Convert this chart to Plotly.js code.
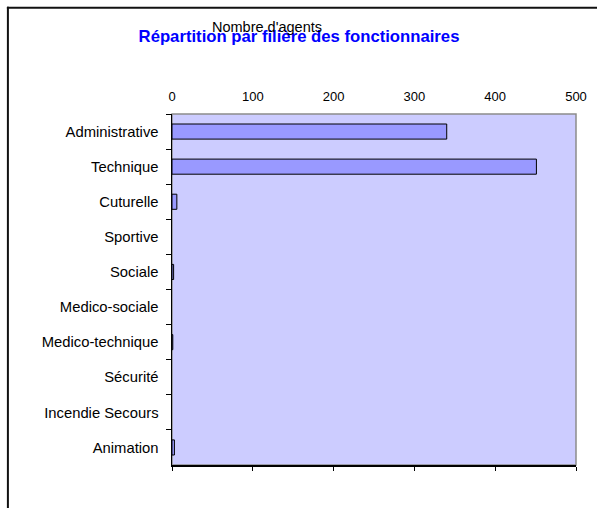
<!DOCTYPE html>
<html>
<head>
<meta charset="utf-8">
<script src="https://cdn.plot.ly/plotly-3.0.1.min.js"></script>
<style>html,body{margin:0;padding:0;background:#fff;}#chart{width:597px;height:508px;}</style>
</head>
<body>
<div id="chart"></div>
<script>
var categories = ["Administrative","Technique","Cuturelle","Sportive","Sociale","Medico-sociale","Medico-technique","Sécurité","Incendie Secours","Animation"];
var agents = [340, 451, 6, 0, 2, 0, 1, 0, 0, 3];
var xTickValues = [0, 100, 200, 300, 400, 500];

var W = 597, H = 508;
var L = 171.5, R = 576.5, T = 113.5, B = 465.5;
function px(x){ return (x - L) / (R - L); }
function py(y){ return (B - y) / (B - T); }

var trace = {
  type: 'bar',
  orientation: 'h',
  x: agents,
  y: categories,
  width: 0.43,
  marker: {color: '#9999FF', line: {color: '#000000', width: agents.map(function(v){ return v > 0 ? 1 : 0; })}},
  hoverinfo: 'x+y',
  showlegend: false
};
// empty trace so that the top (label) axis is drawn
var topAxisTrace = {type: 'scatter', mode: 'markers', x: [], y: [], xaxis: 'x2', yaxis: 'y', showlegend: false, hoverinfo: 'skip'};

var layout = {
  width: W, height: H,
  margin: {l: L, r: W - R, t: T, b: H - B, pad: 0},
  paper_bgcolor: '#FFFFFF',
  plot_bgcolor: '#CCCCFF',
  font: {family: 'Liberation Sans, Arial, sans-serif', color: '#000000', size: 13},
  showlegend: false,
  title: {
    text: '<b>Répartition par filière des fonctionnaires</b>',
    font: {size: 16.7, color: '#0000FF', family: 'Liberation Sans, Arial, sans-serif'},
    xref: 'container', x: 299 / W, xanchor: 'center',
    yref: 'container', y: 1 - 36 / H, yanchor: 'middle'
  },
  xaxis: {
    range: [0, 500], tickvals: xTickValues, showticklabels: false,
    showgrid: false, zeroline: false, showline: true, linecolor: '#000000', linewidth: 1.5,
    ticks: 'outside', ticklen: 4, tickcolor: '#000000', tickwidth: 1, fixedrange: true
  },
  xaxis2: {
    overlaying: 'x', side: 'top', anchor: 'y',
    range: [0, 500], tickvals: xTickValues, ticktext: xTickValues.map(String),
    showgrid: false, zeroline: false, showline: false, ticks: '',
    tickfont: {size: 13}, ticklabelstandoff: 9, fixedrange: true
  },
  yaxis: {
    autorange: 'reversed', type: 'category',
    showgrid: false, zeroline: false, showline: true, linecolor: '#000000', linewidth: 1.5,
    ticks: 'outside', tickson: 'boundaries', ticklen: 5, tickcolor: '#000000', tickwidth: 1,
    tickfont: {size: 14.8}, ticklabelstandoff: 9, fixedrange: true
  },
  shapes: [
    {type: 'rect', xref: 'paper', yref: 'paper', x0: 0, x1: 1, y0: 0, y1: 1,
     line: {color: '#8C8C8C', width: 1.5}, fillcolor: 'rgba(0,0,0,0)', layer: 'below'},
    {type: 'line', xref: 'paper', yref: 'paper', x0: px(6), x1: px(600), y0: py(7), y1: py(7),
     line: {color: '#111111', width: 2}},
    {type: 'line', xref: 'paper', yref: 'paper', x0: px(7), x1: px(7), y0: py(6), y1: py(512),
     line: {color: '#111111', width: 2}}
  ],
  annotations: [
    {text: "Nombre d'agents", xref: 'paper', yref: 'paper', x: px(267), y: py(26),
     xanchor: 'center', yanchor: 'middle', showarrow: false, font: {size: 14.5, color: '#000000'}}
  ]
};

Plotly.newPlot('chart', [trace, topAxisTrace], layout, {displayModeBar: false, staticPlot: true});
</script>
</body>
</html>
